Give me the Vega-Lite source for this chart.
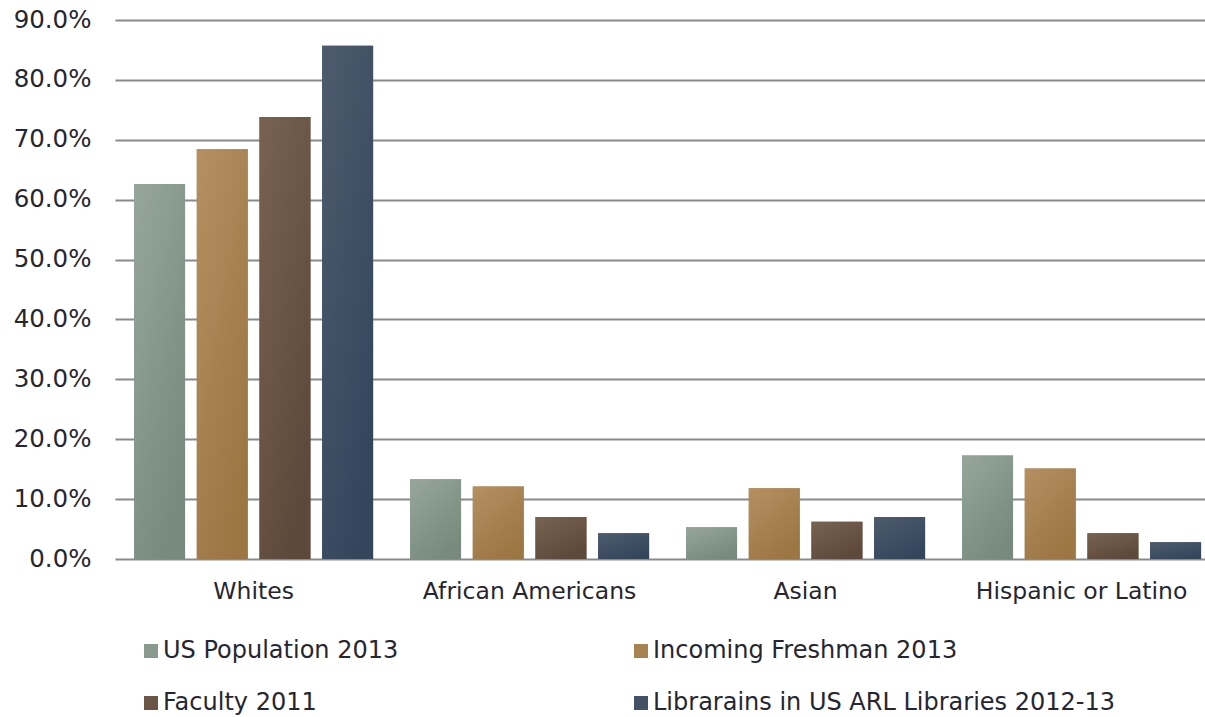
{
  "$schema": "https://vega.github.io/schema/vega-lite/v6.json",
  "autosize": {"type": "none"},
  "padding": {"left": 115, "top": 20, "right": 0, "bottom": 158},
  "width": 1090,
  "height": 539,
  "background": "white",
  "config": {
    "font": "DejaVu Sans",
    "view": {"stroke": null},
    "axis": {"labelFont": "DejaVu Sans", "labelColor": "#262630"},
    "legend": {"labelFont": "DejaVu Sans", "labelColor": "#262630"}
  },
  "data": {
    "values": [
      {"group": "Whites", "series": "US Population 2013", "value": 0.626},
      {"group": "Whites", "series": "Incoming Freshman 2013", "value": 0.684},
      {"group": "Whites", "series": "Faculty 2011", "value": 0.738},
      {"group": "Whites", "series": "Librarains in US ARL Libraries 2012-13", "value": 0.857},
      {"group": "African Americans", "series": "US Population 2013", "value": 0.133},
      {"group": "African Americans", "series": "Incoming Freshman 2013", "value": 0.121},
      {"group": "African Americans", "series": "Faculty 2011", "value": 0.070},
      {"group": "African Americans", "series": "Librarains in US ARL Libraries 2012-13", "value": 0.043},
      {"group": "Asian", "series": "US Population 2013", "value": 0.053},
      {"group": "Asian", "series": "Incoming Freshman 2013", "value": 0.118},
      {"group": "Asian", "series": "Faculty 2011", "value": 0.062},
      {"group": "Asian", "series": "Librarains in US ARL Libraries 2012-13", "value": 0.070},
      {"group": "Hispanic or Latino", "series": "US Population 2013", "value": 0.173},
      {"group": "Hispanic or Latino", "series": "Incoming Freshman 2013", "value": 0.151},
      {"group": "Hispanic or Latino", "series": "Faculty 2011", "value": 0.043},
      {"group": "Hispanic or Latino", "series": "Librarains in US ARL Libraries 2012-13", "value": 0.028}
    ]
  },
  "encoding": {
    "x": {
      "field": "group",
      "type": "nominal",
      "sort": ["Whites", "African Americans", "Asian", "Hispanic or Latino"],
      "scale": {"paddingInner": 0.134, "paddingOuter": 0.0417, "align": 0.83},
      "axis": {
        "title": null,
        "labelAngle": 0,
        "labelFontSize": 23.5,
        "labelPadding": 20,
        "labelLimit": 400,
        "ticks": false,
        "domain": false,
        "grid": false
      }
    },
    "xOffset": {
      "field": "series",
      "type": "nominal",
      "scale": {
        "domain": ["US Population 2013", "Incoming Freshman 2013", "Faculty 2011", "Librarains in US ARL Libraries 2012-13"],
        "paddingInner": 0.187,
        "paddingOuter": 0
      }
    },
    "y": {
      "field": "value",
      "type": "quantitative",
      "scale": {"domain": [0, 0.9], "nice": false},
      "axis": {
        "title": null,
        "format": ".1%",
        "values": [0, 0.1, 0.2, 0.3, 0.4, 0.5, 0.6, 0.7, 0.8, 0.9],
        "labelFontSize": 24.5,
        "labelPadding": 24,
        "ticks": false,
        "domain": false,
        "grid": true,
        "gridColor": "#8a8a8a",
        "gridWidth": 1.8
      }
    }
  },
  "layer": [
    {
      "mark": {"type": "bar"},
      "encoding": {
        "color": {
          "field": "series",
          "type": "nominal",
          "scale": {
            "domain": ["US Population 2013", "Incoming Freshman 2013", "Faculty 2011", "Librarains in US ARL Libraries 2012-13"],
            "range": ["#889a8e", "#a88352", "#6b5546", "#425166"]
          },
          "legend": {
            "title": null,
            "orient": "none",
            "legendX": 24,
            "legendY": 619,
            "direction": "horizontal",
            "columns": 2,
            "columnPadding": 230,
            "rowPadding": 28,
            "symbolType": "square",
            "symbolSize": 196,
            "symbolStrokeWidth": 0,
            "symbolOpacity": 1,
            "labelFontSize": 24,
            "labelOffset": 0,
            "labelLimit": 600,
            "padding": 0
          }
        }
      }
    },
    {
      "transform": [{"filter": "datum.series === 'US Population 2013'"}],
      "mark": {"type": "bar", "color": {"gradient": "linear", "x1": 0, "y1": 0, "x2": 0.6, "y2": 1, "stops": [{"offset": 0, "color": "#96a69b"}, {"offset": 1, "color": "#778a7d"}]}}
    },
    {
      "transform": [{"filter": "datum.series === 'Incoming Freshman 2013'"}],
      "mark": {"type": "bar", "color": {"gradient": "linear", "x1": 0, "y1": 0, "x2": 0.6, "y2": 1, "stops": [{"offset": 0, "color": "#b49062"}, {"offset": 1, "color": "#9c7643"}]}}
    },
    {
      "transform": [{"filter": "datum.series === 'Faculty 2011'"}],
      "mark": {"type": "bar", "color": {"gradient": "linear", "x1": 0, "y1": 0, "x2": 0.6, "y2": 1, "stops": [{"offset": 0, "color": "#786352"}, {"offset": 1, "color": "#5e483b"}]}}
    },
    {
      "transform": [{"filter": "datum.series === 'Librarains in US ARL Libraries 2012-13'"}],
      "mark": {"type": "bar", "color": {"gradient": "linear", "x1": 0, "y1": 0, "x2": 0.6, "y2": 1, "stops": [{"offset": 0, "color": "#4d5c6d"}, {"offset": 1, "color": "#35455c"}]}}
    }
  ]
}
